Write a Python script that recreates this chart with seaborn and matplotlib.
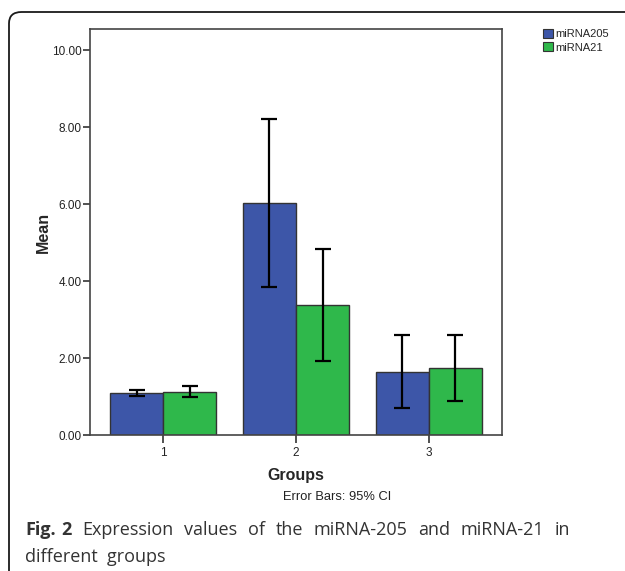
import pandas as pd
import matplotlib.pyplot as plt
import seaborn as sns
from matplotlib.patches import Patch, FancyBboxPatch

# values (Mean, 95% CI)
groups = ["1", "2", "3"]
genes = ["miRNA205", "miRNA21"]
mean_205 = [1.08, 6.03, 1.64]
mean_21 = [1.12, 3.39, 1.75]
ci_low_205 = [1.01, 3.85, 0.69]
ci_high_205 = [1.17, 8.20, 2.60]
ci_low_21 = [0.98, 1.93, 0.88]
ci_high_21 = [1.28, 4.84, 2.60]
colors = ["#3d56a8", "#2fb84b"]

df = pd.DataFrame({
    "Groups": groups * 2,
    "gene": [genes[0]] * 3 + [genes[1]] * 3,
    "Mean": mean_205 + mean_21,
})

sns.set_style("white")
plt.rcParams["font.family"] = ["Liberation Sans", "DejaVu Sans"]

fig = plt.figure(figsize=(6.25, 5.71), dpi=100)
ax = fig.add_axes([90 / 625, 1 - 435 / 571, 412 / 625, 406 / 571])

sns.barplot(data=df, x="Groups", y="Mean", hue="gene", palette=colors,
            saturation=1, edgecolor="#333333", linewidth=1.0, errorbar=None,
            width=0.8, legend=False, ax=ax)

# 95% CI whiskers
lows = [ci_low_205, ci_low_21]
highs = [ci_high_205, ci_high_21]
means = [mean_205, mean_21]
for cont, lo, hi, m in zip(ax.containers, lows, highs, means):
    for bar, l, h, v in zip(cont, lo, hi, m):
        xc = bar.get_x() + bar.get_width() / 2
        ax.errorbar(xc, v, yerr=[[v - l], [h - v]], fmt="none", ecolor="black",
                    elinewidth=1.6, capsize=6, capthick=1.6, zorder=5)

ax.set_xlim(-0.55, 2.55)
ax.set_ylim(0, 10.55)
ax.set_yticks([0, 2, 4, 6, 8, 10])
ax.set_yticklabels(["%.2f" % t for t in [0, 2, 4, 6, 8, 10]])
ax.tick_params(axis="x", direction="out", length=6, width=1.2, color="#333333",
               labelsize=8.5, pad=3, bottom=True, labelcolor="#222222")
ax.tick_params(axis="y", direction="out", length=5, width=1.2, color="#333333",
               labelsize=8.5, pad=1, left=True, labelcolor="#222222")
for s in ax.spines.values():
    s.set_color("#444444")
    s.set_linewidth(1.2)

ax.set_xlabel("Groups", fontsize=11.5, fontweight="bold", labelpad=6)
ax.set_ylabel("Mean", fontsize=11.5, fontweight="bold", labelpad=1)

handles = [Patch(facecolor=c, edgecolor="#333333", linewidth=0.8) for c in colors]
fig.legend(handles, genes, loc="upper left", bbox_to_anchor=(543 / 625, 1 - 29 / 571),
           frameon=False, fontsize=8, handlelength=0.9, handleheight=0.9,
           handletextpad=0.2, labelspacing=0.25, borderpad=0, borderaxespad=0)

fig.text(337 / 625, 1 - 497 / 571, "Error Bars: 95% CI", fontsize=9.3,
         ha="center", va="center", color="#222222")

# caption, first line justified between x=25 and x=570 px
line1 = ["Fig.", "2", "Expression", "values", "of", "the", "miRNA-205",
         "and", "miRNA-21", "in"]
weights = ["bold", "bold"] + ["normal"] * 8
fig.canvas.draw()
renderer = fig.canvas.get_renderer()
items = []
for w, wt in zip(line1, weights):
    t = fig.text(0, 1 - 535 / 571, w, fontsize=13, fontweight=wt,
                 family="Open Sans", color="#333333", va="baseline")
    items.append(t)
widths = [t.get_window_extent(renderer).width for t in items]
left, right = 25, 570
gaps = [6] + [(right - left - sum(widths) - 6) / (len(items) - 2)] * (len(items) - 2)
x = left
for i, t in enumerate(items):
    t.set_x(x / 625)
    if i < len(gaps):
        x += widths[i] + gaps[i]
fig.text(25 / 625, 1 - 562 / 571, "different  groups", fontsize=13,
         family="Open Sans", color="#333333", va="baseline")

# rounded frame around the figure panel
frame = FancyBboxPatch((9 / 625, -0.1), 1.2, 1 - 12 / 571 + 0.1,
                       boxstyle="round,pad=0,rounding_size=0.02",
                       transform=fig.transFigure, fill=False,
                       edgecolor="#1a1a1a", linewidth=1.3)
fig.patches.append(frame)

fig.savefig("out.png", dpi=100)
